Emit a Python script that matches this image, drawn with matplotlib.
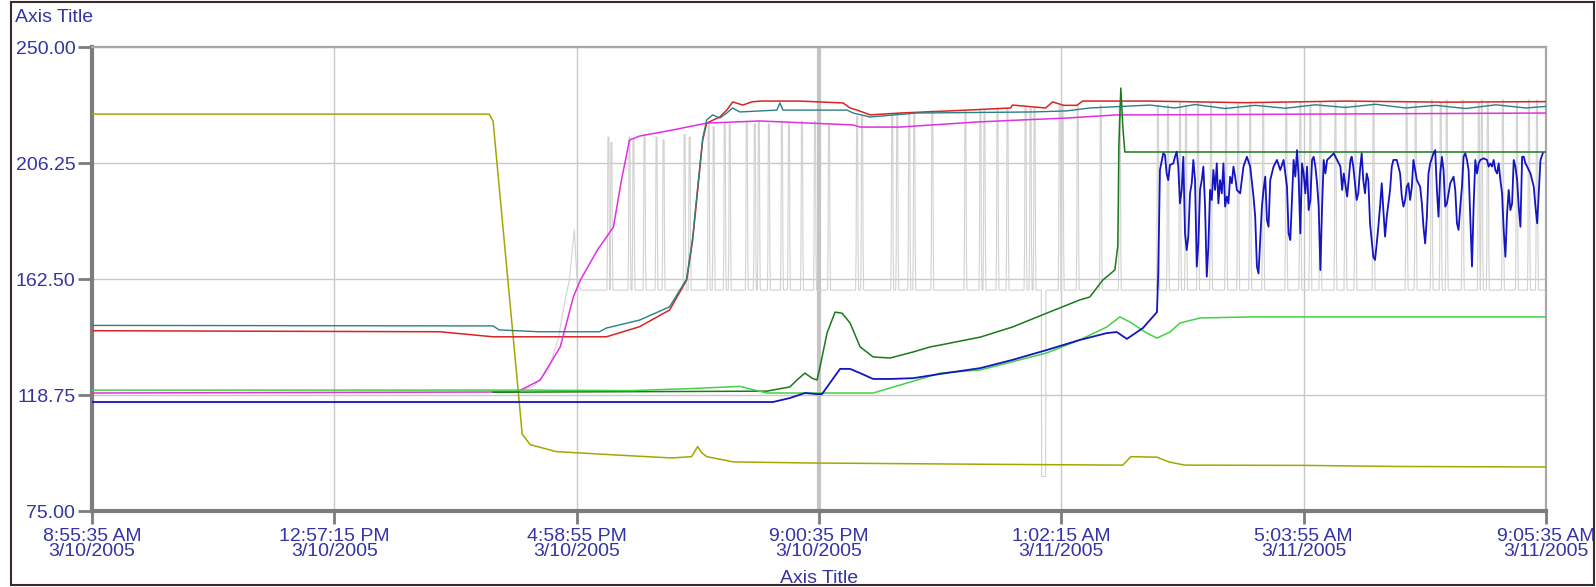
import numpy as np
import pandas as pd
import matplotlib
matplotlib.use("Agg")
import matplotlib.pyplot as plt
from matplotlib.patches import Rectangle

plt.rcParams['font.family'] = ['Liberation Sans', 'DejaVu Sans']

start = pd.Timestamp("2005-03-10 08:55:35")
end = pd.Timestamp("2005-03-11 09:05:35")

# all series: minutes after start, value
olive_t = [0, 396, 400, 429, 437, 463, 519, 578, 598, 604, 608, 613, 640, 720, 900, 1028, 1036,
           1062, 1074, 1090, 1210, 1300, 1450]
olive_v = [224.7, 224.7, 222.0, 104.0, 100.0, 97.4, 96.2, 95.0, 95.5, 99.3, 97.0, 95.5, 93.5, 93.1,
           92.6, 92.3, 95.5, 95.3, 93.5, 92.3, 92.2, 91.8, 91.6]

red_t = [0, 347, 400, 513, 546, 576, 593, 599, 604, 609, 613, 626, 633, 639, 649, 658, 666, 706,
         749, 756, 763, 776, 806, 873, 916, 918, 951, 958, 969, 982, 988, 1055, 1150, 1250, 1350, 1450]
red_v = [143.0, 142.6, 140.7, 140.7, 144.5, 150.8, 162.1, 177.2, 196.0, 214.9, 221.3, 223.6, 226.2,
         229.3, 228.1, 229.3, 229.6, 229.6, 228.9, 227.0, 226.2, 224.4, 225.1, 226.2, 227.0, 228.1,
         227.0, 229.3, 228.0, 228.0, 229.6, 229.6, 229.0, 229.6, 229.2, 229.4]

teal_t = [0, 400, 406, 446, 506, 513, 546, 576, 593, 599, 604, 609, 613, 619, 626, 633, 639, 646,
          683, 686, 689, 753, 759, 776, 822, 938, 972, 995, 1055, 1080, 1100, 1130, 1160, 1190,
          1220, 1250, 1280, 1310, 1340, 1370, 1400, 1430, 1450]
teal_v = [145.0, 144.8, 143.3, 142.6, 142.6, 144.0, 147.0, 152.0, 162.5, 178.0, 197.0, 215.5, 222.5,
          224.4, 223.2, 225.1, 227.0, 225.5, 226.2, 228.9, 226.2, 226.2, 225.1, 223.6, 225.1, 225.5,
          225.9, 227.0, 228.1, 227.0, 228.3, 226.8, 228.0, 226.9, 228.2, 227.2, 228.4, 227.0, 228.0,
          226.8, 228.2, 227.0, 227.6]

magenta_t = [0, 424, 447, 467, 480, 487, 504, 520, 528, 536, 546, 579, 613, 666, 759, 766, 806,
             882, 928, 972, 1022, 1055, 1450]
magenta_v = [119.5, 119.9, 124.4, 136.9, 155.7, 162.1, 173.4, 182.1, 199.8, 214.9, 216.4, 218.7,
             221.3, 222.1, 220.6, 219.8, 219.8, 221.7, 222.5, 223.2, 224.4, 224.4, 225.1]

lime_t = [0, 430, 538, 600, 646, 673, 779, 846, 886, 952, 985, 1012, 1025, 1035, 1052, 1062, 1075,
          1085, 1105, 1155, 1450]
lime_v = [120.6, 120.6, 120.4, 121.2, 122.0, 119.5, 119.5, 127.0, 128.2, 134.6, 139.5, 144.4, 148.2,
          146.3, 142.1, 140.2, 142.5, 145.9, 147.8, 148.2, 148.2]

dgreen_t = [400, 673, 696, 703, 711, 718, 723, 726, 733, 741, 748, 756, 766, 779, 796, 819, 836,
            846, 886, 918, 952, 985, 995, 1008, 1020, 1023, 1023.5, 1024, 1026, 1028, 1030, 1450]
dgreen_v = [119.8, 120.2, 121.8, 124.4, 127.0, 125.1, 124.4, 129.3, 142.1, 150.0, 149.6, 145.9,
            136.9, 133.1, 132.7, 135.0, 136.9, 137.6, 140.6, 144.4, 149.6, 154.6, 155.7, 162.1,
            165.9, 175.0, 192.0, 212.3, 234.5, 219.8, 210.4, 210.4]

blue_t = [0, 679, 696, 711, 723, 728, 736, 746, 756, 766, 779, 796, 819, 846, 886, 918, 952, 985,
          1012, 1022, 1032, 1048, 1062, 1063.3,
          1065.0, 1068.3, 1070.0, 1071.7, 1073.3, 1075.0, 1078.3, 1080.0, 1081.7, 1083.3, 1085.0,
          1086.7, 1088.3, 1090.0, 1091.7, 1093.3, 1095.0, 1096.7, 1098.3, 1100.0, 1101.7, 1103.3,
          1105.0, 1106.7, 1108.3, 1110.0, 1111.7, 1113.3, 1115.0, 1116.7, 1118.3, 1120.0, 1121.7,
          1123.3, 1125.0, 1126.7, 1128.3, 1130.0, 1131.7, 1133.3, 1135.0, 1136.7, 1138.3, 1140.0,
          1141.7, 1145.0, 1148.3, 1151.7, 1155.0, 1158.3, 1160.0, 1161.7, 1163.3, 1165.0, 1166.7,
          1168.3, 1170.0, 1171.7, 1173.3, 1175.0, 1178.3, 1181.7, 1185.0, 1188.3, 1191.7, 1193.3,
          1195.0, 1196.7, 1198.3, 1200.0, 1201.7, 1203.3, 1205.0, 1206.7, 1208.3, 1210.0, 1211.7,
          1213.3, 1215.0, 1216.7, 1218.3, 1220.0, 1221.7, 1223.3, 1225.0, 1226.7, 1228.3, 1230.0,
          1231.7, 1235.0, 1238.3, 1241.7, 1245.0, 1246.7, 1248.3, 1251.7, 1255.0,
          1256.2, 1257.8, 1259.5, 1261.2, 1262.8, 1264.5, 1266.2, 1267.8, 1269.5, 1271.2, 1272.8,
          1274.5, 1276.2, 1277.8, 1279.5, 1281.2, 1282.8, 1284.5, 1286.2, 1287.8, 1289.5, 1291.2,
          1292.8, 1294.5, 1296.2, 1297.8, 1301.2, 1302.8, 1304.5, 1306.2, 1307.8, 1309.5, 1311.2,
          1312.8, 1314.5, 1316.2, 1317.8, 1319.5, 1321.2, 1324.5, 1326.2, 1327.8, 1329.5, 1331.2,
          1332.8, 1334.5, 1337.8, 1339.5, 1341.2, 1342.8, 1344.5, 1346.2, 1347.8, 1349.5, 1351.2,
          1352.8, 1354.5, 1357.8, 1359.5, 1361.2, 1362.8, 1364.5, 1366.2, 1367.8, 1369.5, 1371.2,
          1372.8, 1374.5, 1376.2, 1377.8, 1379.5, 1381.2, 1382.8, 1384.5, 1387.8, 1391.2, 1392.8,
          1394.5, 1396.2, 1397.8, 1399.5, 1401.2, 1402.8, 1404.5, 1406.2, 1407.8, 1409.5, 1411.2,
          1412.8, 1414.5, 1416.2, 1417.8, 1419.5, 1421.2, 1422.8, 1424.5, 1426.2, 1427.8, 1429.5,
          1431.2, 1434.5, 1436.2, 1437.8, 1439.5, 1441.2, 1442.8, 1444.5, 1446.8]
blue_v = [116.1, 116.1, 117.6, 119.5, 119.1, 119.1, 123.3, 128.6, 128.6, 127.0, 124.8, 124.8, 125.1,
          126.7, 128.9, 132.0, 135.7, 139.5, 142.1, 142.5, 139.9, 144.0, 150.0, 164.6,
          203.6, 209.9, 209.3, 202.3, 199.8, 205.5, 206.1, 208.6, 210.5, 204.9, 191.0,
          196.1, 208.6, 179.7, 173.4, 178.5, 194.8, 198.6, 207.4, 199.8, 167.2, 175.9,
          196.1, 199.8, 204.9, 189.8, 163.4, 174.7, 196.1, 192.3, 203.6, 196.1, 206.1,
          191.0, 199.8, 194.8, 206.1, 189.8, 193.6, 191.0, 201.1, 198.6, 204.9, 201.1,
          196.1, 194.8, 204.9, 208.6, 204.9, 193.6, 186.0, 167.2, 164.6, 177.2, 189.8,
          196.1, 201.1, 184.8, 182.2, 199.8, 204.9, 207.4, 203.6, 207.4, 197.3, 179.7,
          177.2, 192.3, 207.4, 201.1, 211.1, 201.1, 179.7, 206.1, 202.3, 194.8, 204.9,
          188.5, 192.3, 207.4, 208.6, 204.9, 198.6, 189.8, 165.9, 189.8, 207.4, 202.3,
          207.4, 208.6, 209.9, 207.4, 204.9, 196.1, 202.3, 193.6, 207.4,
          208.6, 204.9, 198.6, 192.3, 194.8, 203.6, 209.9, 199.8, 194.8, 202.3, 199.8,
          183.5, 177.2, 170.9, 169.7, 175.9, 182.2, 189.8, 198.6, 188.5, 178.5, 186.0,
          191.0, 196.1, 204.9, 207.4, 207.4, 204.9, 202.3, 193.6, 189.8, 192.3, 197.3,
          198.6, 192.3, 197.3, 207.4, 203.6, 199.8, 197.3, 191.0, 182.2, 175.9, 186.0,
          202.3, 206.1, 209.9, 211.1, 196.1, 186.0, 202.3, 208.6, 203.6, 189.8, 191.0,
          194.8, 198.6, 201.1, 196.1, 183.5, 181.0, 189.8, 197.3, 208.6, 209.9, 207.4,
          203.6, 184.8, 167.2, 189.8, 207.4, 202.3, 206.1, 207.4, 208.0, 207.4, 204.9,
          206.1, 204.9, 207.4, 203.6, 202.3, 206.1, 199.8, 194.8, 181.0, 170.9, 187.3,
          196.1, 188.5, 191.0, 207.4, 204.9, 199.8, 189.8, 182.2, 208.6, 208.6, 206.1,
          204.9, 202.3, 199.8, 197.3, 189.8, 183.5, 194.8, 207.4, 209.9]

# light grey on/off signal: ramp, then narrow pulses from a base level
gray_ramp_t = [420, 440, 455, 465, 472, 476, 481, 484, 488]
gray_ramp_v = [119.7, 122.0, 128.0, 140.0, 155.0, 162.0, 181.0, 160.0, 158.3]
gray_base = 158.3
gray_shoulder = 173.0
pulse_t = [515, 518, 536, 540, 551, 563, 570, 591, 596, 615, 620, 631, 636, 653, 661, 665, 675,
           688, 695, 708, 721, 735, 763, 768, 798, 803, 815, 820, 838, 871, 886, 890, 903, 913,
           931, 936, 940, 965, 968, 983, 1006, 1025, 1063, 1073, 1085, 1091, 1103, 1116, 1131,
           1143, 1155, 1168, 1191, 1205, 1215, 1225, 1240, 1250, 1260, 1278, 1311, 1320, 1336,
           1345, 1351, 1367, 1383, 1386, 1392, 1407, 1421, 1433, 1441]
pulse_top = [216, 214, 216, 215, 217, 216, 215, 217, 216, 221, 220, 221, 221, 222, 221, 222, 221,
             222, 221, 222, 222, 221, 224, 224, 225, 224, 225, 225, 226, 226, 226, 226, 227, 227,
             227, 227, 227, 228, 228, 228, 228, 228, 228, 228, 229, 228, 229, 229, 228,
             229, 229, 229, 229, 229, 228, 229, 229, 228, 229, 229, 229, 229, 230,
             229, 230, 230, 229, 230, 229, 230, 229, 230, 230]
dip_t = [947, 951]
dip_v = 88.0

tick_times = pd.date_range(start, end, periods=7)
y_ticks = [75.0, 118.75, 162.5, 206.25, 250.0]


def to_time(minutes):
    return (start + pd.to_timedelta(np.asarray(minutes, dtype=float), unit="min")).to_numpy()


# assemble grey signal points
pts = list(zip(gray_ramp_t, gray_ramp_v))
for t, top in zip(pulse_t, pulse_top):
    pts += [(t - 1.5, gray_base), (t - 1.0, gray_shoulder), (t - 0.5, top),
            (t + 0.5, top), (t + 1.0, gray_shoulder), (t + 1.5, gray_base)]
pts += [(dip_t[0] - 0.3, gray_base), (dip_t[0], dip_v), (dip_t[1], dip_v), (dip_t[1] + 0.3, gray_base)]
pts += [(1450, gray_base)]
pts.sort()
gray_t = [p[0] for p in pts]
gray_v = [p[1] for p in pts]

text_color = '#3434a4'
W, H = 1596, 587
fig = plt.figure(figsize=(W / 100, H / 100), dpi=100)
ax = fig.add_axes([92 / W, 1 - 511 / H, 1454 / W, 464 / H])

ax.plot(to_time(gray_t), gray_v, color='#d2d2d2', lw=0.8, zorder=2)
ax.plot(to_time(olive_t), olive_v, color='#a0a800', lw=1.1, zorder=3)
ax.plot(to_time(red_t), red_v, color='#d82424', lw=1.1, zorder=3)
ax.plot(to_time(teal_t), teal_v, color='#2a8080', lw=1.0, zorder=4)
ax.plot(to_time(magenta_t), magenta_v, color='#e030e0', lw=1.1, zorder=3)
ax.plot(to_time(dgreen_t), dgreen_v, color='#1a7a1a', lw=1.1, zorder=3)
ax.plot(to_time(lime_t), lime_v, color='#44d044', lw=1.1, zorder=4)
ax.plot(to_time(blue_t), blue_v, color='#1414c0', lw=1.3, zorder=5)

ax.set_xlim(start, end)
ax.set_ylim(75, 250)
ax.set_yticks(y_ticks)
ax.set_yticklabels(['%.2f' % v for v in y_ticks])
ax.set_xticks(tick_times)
ax.set_xticklabels([f"{t.hour % 12 or 12}:{t:%M:%S %p}\n{t.month}/{t.day}/{t.year}" for t in tick_times])
for lab in ax.get_xticklabels():
    lab.set_linespacing(0.85)

ax.grid(True, color='#c8c8c8', lw=1.0, zorder=1)
ax.axvline(tick_times[3], color='#c4c4c4', lw=3.0, zorder=1)
ax.set_axisbelow(True)

for side in ['left', 'bottom']:
    ax.spines[side].set_color('#7c7c7c')
    ax.spines[side].set_linewidth(3)
for side in ['top', 'right']:
    ax.spines[side].set_color('#a8a8a8')
    ax.spines[side].set_linewidth(1.6)

ax.tick_params(axis='y', length=10, width=2, color='#7c7c7c', pad=2, labelsize=14, labelcolor=text_color)
ax.tick_params(axis='x', length=9, width=2, color='#7c7c7c', pad=3, labelsize=14, labelcolor=text_color)

ax.set_xlabel('Axis Title', fontsize=14, color=text_color, va='top')
ax.xaxis.set_label_coords(0.5, -0.128)
ax.set_ylabel('Axis Title', fontsize=14, color=text_color, rotation=0, ha='left', va='top')
ax.yaxis.set_label_coords(-0.053, 1.082)

fig.add_artist(Rectangle((11 / W, 2 / H), 1583 / W, 583 / H, transform=fig.transFigure,
                         fill=False, edgecolor='#3c2a2a', lw=1.5))

fig.savefig('out.png', dpi=100)
